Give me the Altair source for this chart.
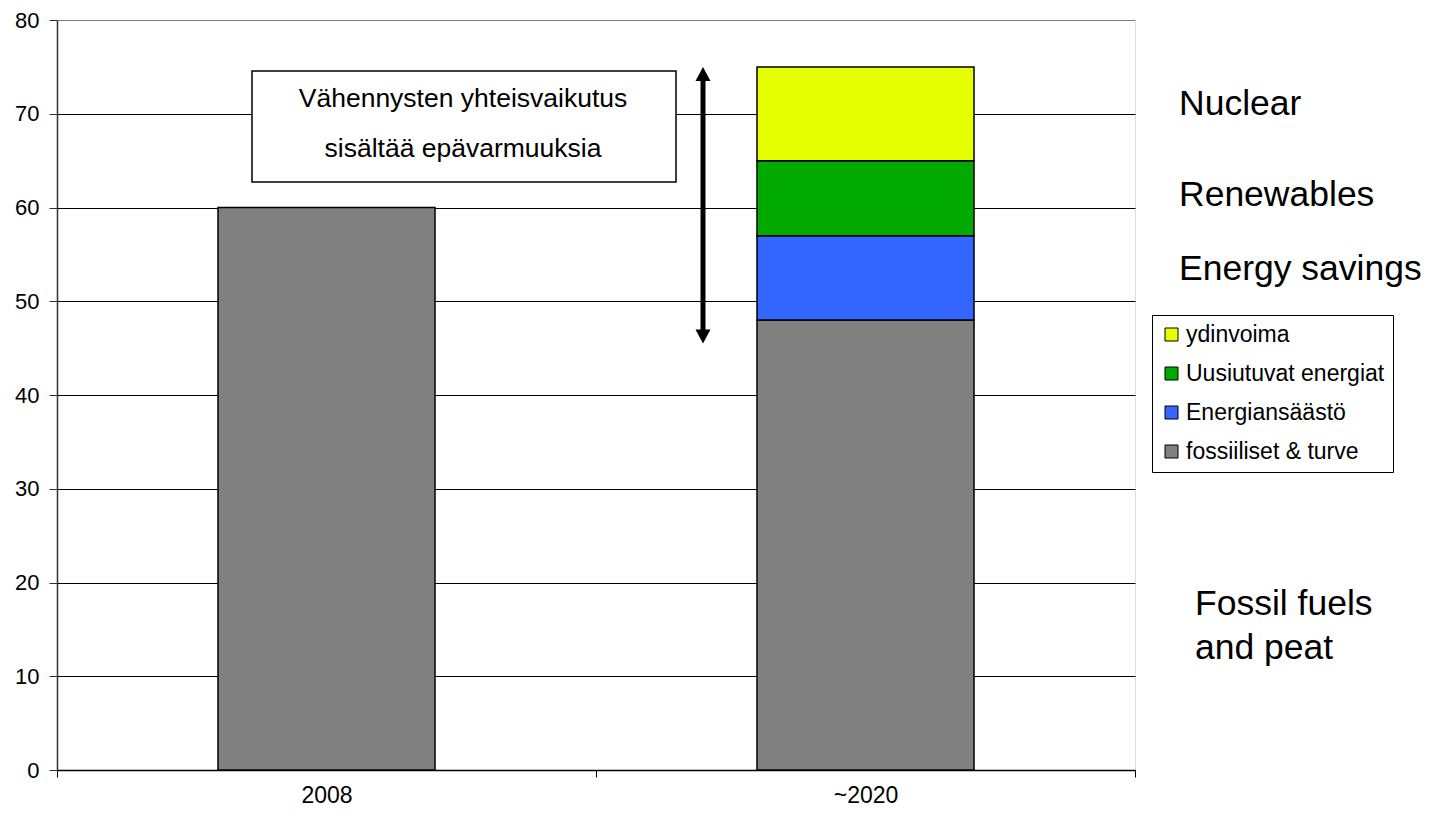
import altair as alt
import pandas as pd

# ---- data ----
years = ["2008", "~2020"]
series = ["fossiiliset & turve", "Energiansäästö", "Uusiutuvat energiat", "ydinvoima"]
fossil = [60, 48]
savings = [0, 9]
renewables = [0, 8]
nuclear = [0, 10]
series_colors = ["#808080", "#3366FF", "#00AA00", "#E5FF00"]
legend_order = ["ydinvoima", "Uusiutuvat energiat", "Energiansäästö", "fossiiliset & turve"]
y_ticks = [0, 10, 20, 30, 40, 50, 60, 70, 80]
arrow_top = [75]
arrow_bottom = [45.5]
box_lines = ["Vähennysten yhteisvaikutus", "sisältää epävarmuuksia"]
side_labels = ["Nuclear", "Renewables", "Energy savings", "Fossil fuels", "and peat"]

FONT = "Liberation Sans"

rows = []
for i, yr in enumerate(years):
    for k, (s, vals) in enumerate(zip(series, [fossil, savings, renewables, nuclear])):
        if vals[i] > 0:
            rows.append({"year": yr, "series": s, "value": vals[i], "ord": k})
df = pd.DataFrame(rows)

color_map = dict(zip(series, series_colors))

bars = alt.Chart(df).mark_bar(size=217, stroke="black", strokeWidth=1.5).encode(
    x=alt.X(
        "year:N",
        sort=years,
        scale=alt.Scale(paddingInner=0, paddingOuter=0),
        axis=alt.Axis(
            title=None, labelAngle=0, tickBand="extent", tickSize=7,
            labelPadding=7, labelFontSize=23, domainColor="black",
            tickColor="black", grid=False, labelColor="black",
            domainWidth=1.5, labelFont=FONT,
        ),
    ),
    y=alt.Y(
        "value:Q",
        stack="zero",
        scale=alt.Scale(domain=[0, 80], nice=False),
        axis=alt.Axis(
            title=None, values=y_ticks, tickSize=8, labelPadding=10,
            labelFontSize=22, labelColor="black", labelFont=FONT,
            domainColor="#333333", tickColor="#333333", domainWidth=1.5,
            grid=True, gridWidth=1.2,
            gridColor={"condition": {"test": "datum.value === 80", "value": "#808080"},
                       "value": "black"},
        ),
    ),
    color=alt.Color(
        "series:N",
        scale=alt.Scale(domain=legend_order, range=[color_map[s] for s in legend_order]),
        legend=alt.Legend(
            title=None, orient="none", legendX=1095, legendY=295,
            symbolType="square", symbolSize=169, symbolStrokeColor="black",
            symbolStrokeWidth=1, labelFontSize=23, labelFont=FONT, labelLimit=400,
            labelColor="black", rowPadding=15, padding=8, labelOffset=3,
            strokeColor="black", fillColor="white",
        ),
    ),
    order=alt.Order("ord:Q", sort="ascending"),
)

# annotation box
box_df = pd.DataFrame({"x": [0]})
box = alt.Chart(box_df).mark_rect(fill="white", stroke="black", strokeWidth=1.5).encode(
    x=alt.value(195), x2=alt.value(619), y=alt.value(51), y2=alt.value(162)
)
box_text1 = alt.Chart(box_df).mark_text(
    text=box_lines[0], font=FONT, fontSize=26.5, align="center", baseline="alphabetic", color="black"
).encode(x=alt.value(406), y=alt.value(87))
box_text2 = alt.Chart(box_df).mark_text(
    text=box_lines[1], font=FONT, fontSize=26.5, align="center", baseline="alphabetic", color="black"
).encode(x=alt.value(406), y=alt.value(137))

# arrow
arrow_df = pd.DataFrame({"top": arrow_top, "bottom": arrow_bottom})
rule = alt.Chart(arrow_df).transform_calculate(
    rt="datum.top - 1.2", rb="datum.bottom + 1.2"
).mark_rule(strokeWidth=5, color="black").encode(
    x=alt.value(646), y=alt.Y("rt:Q", title=None), y2="rb:Q"
)
head_up = alt.Chart(arrow_df).mark_point(
    shape="M0,0L-0.75,1.4L0.75,1.4Z", size=400, filled=True, color="black", opacity=1, strokeWidth=0
).encode(x=alt.value(646), y=alt.Y("top:Q", title=None))
head_down = alt.Chart(arrow_df).mark_point(
    shape="M0,0L-0.75,-1.4L0.75,-1.4Z", size=400, filled=True, color="black", opacity=1, strokeWidth=0
).encode(x=alt.value(646), y=alt.Y("bottom:Q", title=None))

# side labels
side_pos = [(1122, 95), (1122, 186), (1122, 260), (1138, 595), (1138, 639)]
side_layers = []
for lab, (px, py) in zip(side_labels, side_pos):
    side_layers.append(
        alt.Chart(box_df).mark_text(
            text=lab, font=FONT, fontSize=35.5, align="left", baseline="alphabetic", color="black"
        ).encode(x=alt.value(px), y=alt.value(py))
    )

chart = alt.layer(
    bars, box, box_text1, box_text2, rule, head_up, head_down, *side_layers
).properties(
    width=1078, height=750,
    autosize=alt.AutoSizeParams(type="none"),
    padding={"left": 49, "top": 12, "right": 298, "bottom": 39},
).configure_view(
    stroke="#808080", strokeWidth=1.5
).configure(background="white")

chart.save("out.html", embed_options={"renderer": "svg", "actions": False})
